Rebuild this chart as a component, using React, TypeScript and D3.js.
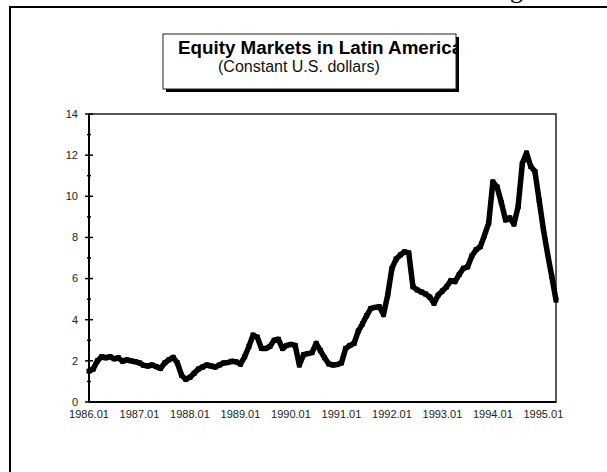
import React, { useEffect, useRef } from 'react';
import * as d3 from 'd3';

// monthly index, 1986.01 .. 1995.04
const values = [
  1.5, 1.6, 2.0, 2.2, 2.15, 2.2, 2.1, 2.15, 1.98, 2.05, 2.0, 1.96,
  1.9, 1.78, 1.75, 1.8, 1.72, 1.63, 1.9, 2.05, 2.17, 1.9, 1.3, 1.1,
  1.2, 1.4, 1.6, 1.7, 1.8, 1.75, 1.7, 1.8, 1.9, 1.92, 1.98, 1.95,
  1.84, 2.2, 2.7, 3.25, 3.15, 2.6, 2.6, 2.7, 3.0, 3.05, 2.6, 2.75,
  2.8, 2.75, 1.8, 2.3, 2.35, 2.4, 2.85, 2.5, 2.15, 1.85, 1.8, 1.82,
  1.9, 2.6, 2.75, 2.85, 3.45, 3.8, 4.2, 4.55, 4.6, 4.63, 4.25, 5.2,
  6.5, 6.95, 7.15, 7.3, 7.25, 5.6, 5.45, 5.35, 5.25, 5.1, 4.8, 5.2,
  5.4, 5.6, 5.9, 5.85, 6.2, 6.5, 6.57, 7.1, 7.4, 7.55, 8.1, 8.7,
  10.7, 10.45, 9.7, 8.85, 8.95, 8.65, 9.5, 11.6, 12.1, 11.45, 11.2, 9.8,
  8.4, 7.2, 6.1, 4.95,
];

const xTickIndex = [0, 12, 24, 36, 48, 60, 72, 84, 96, 108];
const xTickLabels = [
  '1986.01', '1987.01', '1988.01', '1989.01', '1990.01',
  '1991.01', '1992.01', '1993.01', '1994.01', '1995.01',
];
const yTicks = [0, 2, 4, 6, 8, 10, 12, 14];
const yMinorTicks = [1, 3, 5, 7, 9, 11, 13];

const title = 'Equity Markets in Latin America';
const subtitle = '(Constant U.S. dollars)';

const font = "'Liberation Sans', Arial, sans-serif";

const App = () => {
  const ref = useRef(null);

  useEffect(() => {
    const svg = d3.select(ref.current);
    svg.selectAll('*').remove();

    const left = 89, right = 556, top = 114, bottom = 402;

    const x = d3.scaleLinear().domain([0, values.length - 1]).range([left, right]);
    const y = d3.scaleLinear().domain([0, 14]).range([bottom, top]);

    // page leftovers: outer frame and the cut heading above it
    svg.append('text')
      .attr('x', 510).attr('y', -2)
      .attr('font-family', "'Liberation Serif', 'Times New Roman', serif")
      .attr('font-size', 26)
      .text('g');
    svg.append('path')
      .attr('d', `M10,480 V7 H620`)
      .attr('fill', 'none').attr('stroke', '#000').attr('stroke-width', 2);

    // title box with drop shadow, text clipped at the box edge
    svg.append('rect')
      .attr('x', 166).attr('y', 37).attr('width', 293).attr('height', 55)
      .attr('fill', '#000');
    svg.append('rect')
      .attr('x', 163).attr('y', 34).attr('width', 293).attr('height', 55)
      .attr('fill', '#fff').attr('stroke', '#222').attr('stroke-width', 1);
    svg.append('clipPath').attr('id', 'titleclip')
      .append('rect').attr('x', 163).attr('y', 34).attr('width', 293).attr('height', 55);
    const tg = svg.append('g').attr('clip-path', 'url(#titleclip)');
    tg.append('text')
      .attr('x', 178).attr('y', 54)
      .attr('font-family', font).attr('font-size', 18.8).attr('font-weight', 'bold')
      .attr('fill', '#000')
      .text(title);
    tg.append('text')
      .attr('x', 218).attr('y', 72)
      .attr('font-family', font).attr('font-size', 16)
      .attr('fill', '#111')
      .text(subtitle);

    // plot frame
    svg.append('rect')
      .attr('x', left).attr('y', top).attr('width', right - left).attr('height', bottom - top)
      .attr('fill', 'none').attr('stroke', '#222').attr('stroke-width', 1.5);

    // y axis
    svg.append('line')
      .attr('x1', left).attr('x2', left).attr('y1', top).attr('y2', bottom)
      .attr('stroke', '#000').attr('stroke-width', 2);
    svg.selectAll('.ymaj').data(yTicks).enter().append('line')
      .attr('x1', left - 4).attr('x2', left + 4)
      .attr('y1', (d) => y(d)).attr('y2', (d) => y(d))
      .attr('stroke', '#000').attr('stroke-width', 1.5);
    svg.selectAll('.ymin').data(yMinorTicks).enter().append('line')
      .attr('x1', left - 2).attr('x2', left + 2)
      .attr('y1', (d) => y(d)).attr('y2', (d) => y(d))
      .attr('stroke', '#000').attr('stroke-width', 1.5);
    svg.selectAll('.ylab').data(yTicks).enter().append('text')
      .attr('x', 78).attr('y', (d) => y(d)).attr('dy', '0.35em')
      .attr('text-anchor', 'end')
      .attr('font-family', font).attr('font-size', 11).attr('fill', '#222')
      .text((d) => d);

    // x axis
    svg.append('line')
      .attr('x1', left).attr('x2', right).attr('y1', bottom).attr('y2', bottom)
      .attr('stroke', '#000').attr('stroke-width', 2);
    svg.selectAll('.xlab').data(xTickIndex).enter().append('text')
      .attr('x', (d) => x(d)).attr('y', 418)
      .attr('text-anchor', 'middle')
      .attr('font-family', font).attr('font-size', 11).attr('fill', '#222')
      .text((d, i) => xTickLabels[i]);

    // series
    const line = d3.line().x((d, i) => x(i)).y((d) => y(d));
    svg.append('path')
      .datum(values)
      .attr('d', line)
      .attr('fill', 'none').attr('stroke', '#000')
      .attr('stroke-width', 5.5).attr('stroke-linejoin', 'round');
    svg.selectAll('.mk').data(values).enter().append('rect')
      .attr('x', (d, i) => x(i) - 2.5).attr('y', (d) => y(d) - 2.5)
      .attr('width', 5).attr('height', 5)
      .attr('fill', '#000');
  }, []);

  return (
    <svg
      ref={ref}
      width={607}
      height={472}
      style={{ position: 'absolute', left: 0, top: 0, background: '#fff' }}
    ></svg>
  );
};

export default App;
